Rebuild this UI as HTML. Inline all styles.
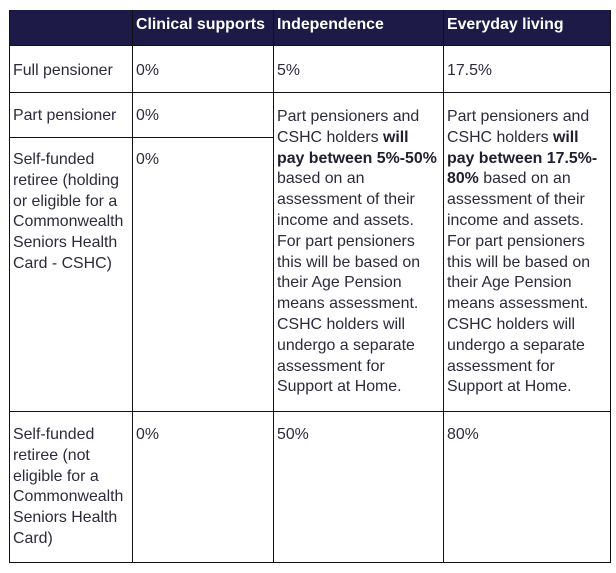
<!DOCTYPE html>
<html><head><style>
body{margin:0;width:616px;height:573px;background:#fff;position:relative;overflow:hidden;font-family:"Liberation Sans",Arial,sans-serif;font-size:15.9px;color:#2b2b3b;}
.h{position:absolute;left:9px;top:10px;width:602px;height:35px;background:#1d1a48;}
.l{position:absolute;background:#111;}
.t{position:absolute;line-height:20.8px;white-space:nowrap;}
.w{color:#fff;font-weight:bold;top:15px;}
b{font-weight:bold;color:#1f1f2f;}
</style></head><body>
<div class="h"></div>
<div class="l" style="left:9px;top:10px;width:1px;height:553px"></div>
<div class="l" style="left:132px;top:10px;width:1px;height:553px"></div>
<div class="l" style="left:273px;top:10px;width:1px;height:553px"></div>
<div class="l" style="left:443px;top:10px;width:1px;height:553px"></div>
<div class="l" style="left:610px;top:10px;width:1px;height:553px"></div>
<div class="l" style="left:9px;top:45px;width:602px;height:1px"></div>
<div class="l" style="left:9px;top:92px;width:602px;height:1px"></div>
<div class="l" style="left:9px;top:137px;width:264px;height:1px"></div>
<div class="l" style="left:9px;top:411px;width:602px;height:1px"></div>
<div class="l" style="left:9px;top:562px;width:602px;height:1px"></div>

<div class="t w" style="left:136px">Clinical supports</div>
<div class="t w" style="left:277px">Independence</div>
<div class="t w" style="left:447px">Everyday living</div>

<div class="t" style="left:13px;top:61px">Full pensioner</div>
<div class="t" style="left:136px;top:61px">0%</div>
<div class="t" style="left:277px;top:61px">5%</div>
<div class="t" style="left:447px;top:61px">17.5%</div>

<div class="t" style="left:13px;top:106px">Part pensioner</div>
<div class="t" style="left:136px;top:106px">0%</div>
<div class="t" style="left:277px;top:107px">Part pensioners and<br>CSHC holders <b>will</b><br><b>pay between 5%-50%</b><br>based on an<br>assessment of their<br>income and assets.<br>For part pensioners<br>this will be based on<br>their Age Pension<br>means assessment.<br>CSHC holders will<br>undergo a separate<br>assessment for<br>Support at Home.</div>
<div class="t" style="left:447px;top:107px">Part pensioners and<br>CSHC holders <b>will</b><br><b>pay between 17.5%-</b><br><b>80%</b> based on an<br>assessment of their<br>income and assets.<br>For part pensioners<br>this will be based on<br>their Age Pension<br>means assessment.<br>CSHC holders will<br>undergo a separate<br>assessment for<br>Support at Home.</div>

<div class="t" style="left:13px;top:150px">Self-funded<br>retiree (holding<br>or eligible for a<br>Commonwealth<br>Seniors Health<br>Card - CSHC)</div>
<div class="t" style="left:136px;top:150px">0%</div>

<div class="t" style="left:13px;top:425px">Self-funded<br>retiree (not<br>eligible for a<br>Commonwealth<br>Seniors Health<br>Card)</div>
<div class="t" style="left:136px;top:425px">0%</div>
<div class="t" style="left:277px;top:425px">50%</div>
<div class="t" style="left:447px;top:425px">80%</div>
</body></html>
